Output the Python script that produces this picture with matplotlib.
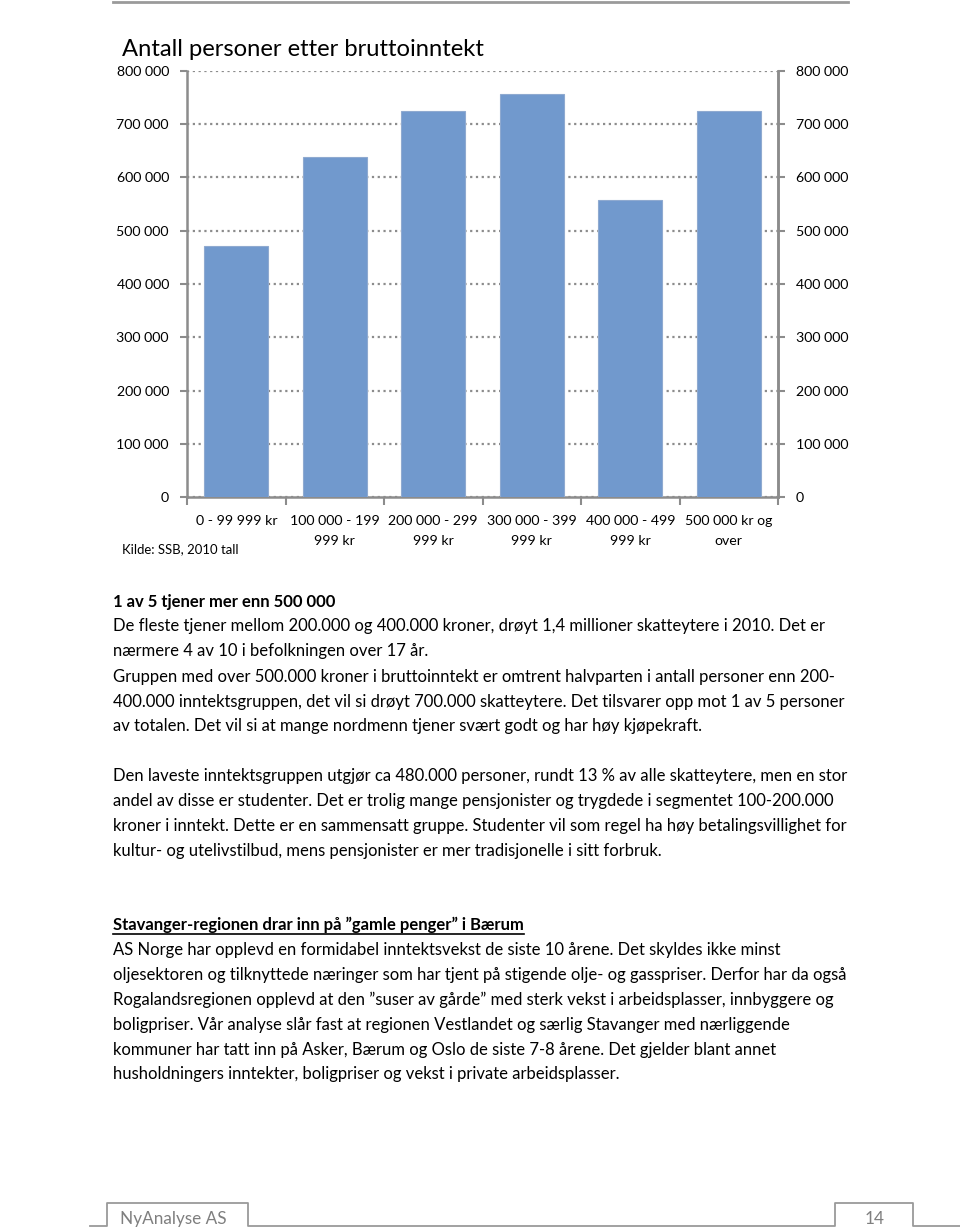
import matplotlib
matplotlib.use("Agg")
import matplotlib.pyplot as plt
from matplotlib.lines import Line2D

# ---------------- data ----------------
categories = ["0 - 99 999 kr", "100 000 - 199\n999 kr", "200 000 - 299\n999 kr",
              "300 000 - 399\n999 kr", "400 000 - 499\n999 kr", "500 000 kr og\nover"]
persons = [472000, 638000, 724000, 756000, 557000, 724000]
y_ticks = [0, 100000, 200000, 300000, 400000, 500000, 600000, 700000, 800000]

title = "Antall personer etter bruttoinntekt"
source = "Kilde: SSB, 2010 tall"

para1_head = "1 av 5 tjener mer enn 500 000"
para1 = ["De fleste tjener mellom 200.000 og 400.000 kroner, drøyt 1,4 millioner skatteytere i 2010. Det er",
         "nærmere 4 av 10 i befolkningen over 17 år."]
para2 = ["Gruppen med over 500.000 kroner i bruttoinntekt er omtrent halvparten i antall personer enn 200-",
         "400.000 inntektsgruppen, det vil si drøyt 700.000 skatteytere. Det tilsvarer opp mot 1 av 5 personer",
         "av totalen. Det vil si at mange nordmenn tjener svært godt og har høy kjøpekraft."]
para3 = ["Den laveste inntektsgruppen utgjør ca 480.000 personer, rundt 13 % av alle skatteytere, men en stor",
         "andel av disse er studenter. Det er trolig mange pensjonister og trygdede i segmentet 100-200.000",
         "kroner i inntekt. Dette er en sammensatt gruppe. Studenter vil som regel ha høy betalingsvillighet for",
         "kultur- og utelivstilbud, mens pensjonister er mer tradisjonelle i sitt forbruk."]
para4_head = "Stavanger-regionen drar inn på \u201dgamle penger\u201d i Bærum"
para4 = ["AS Norge har opplevd en formidabel inntektsvekst de siste 10 årene. Det skyldes ikke minst",
         "oljesektoren og tilknyttede næringer som har tjent på stigende olje- og gasspriser. Derfor har da også",
         "Rogalandsregionen opplevd at den \u201dsuser av gårde\u201d med sterk vekst i arbeidsplasser, innbyggere og",
         "boligpriser. Vår analyse slår fast at regionen Vestlandet og særlig Stavanger med nærliggende",
         "kommuner har tatt inn på Asker, Bærum og Oslo de siste 7-8 årene. Det gjelder blant annet",
         "husholdningers inntekter, boligpriser og vekst i private arbeidsplasser."]
footer_left = "NyAnalyse AS"
footer_right = "14"

# ---------------- figure ----------------
W, H = 960, 1229
FONT = "Lato"
plt.rcParams['font.family'] = [FONT, 'DejaVu Sans']
fig = plt.figure(figsize=(W / 100, H / 100), dpi=100)
renderer = fig.canvas.get_renderer()


def fx(x):
    return x / W


def fy(y):
    return 1 - y / H


def fit_size(s, target_px, weight="normal", base=10.0):
    t = fig.text(0, 0, s, fontsize=base, weight=weight)
    w = t.get_window_extent(renderer=renderer).width
    t.remove()
    return base * target_px / w


grey = "#8c8c8c"
bar_color = "#7199CD"

# top rule
fig.add_artist(Line2D([fx(113), fx(848)], [fy(2), fy(2)], color="#9a9a9a", lw=2))

# chart axes
ax = fig.add_axes([fx(187), fy(497), (778 - 187) / W, (497 - 71) / H])
x = list(range(len(categories)))
ax.bar(x, persons, width=0.65, color=bar_color, edgecolor="#8FAAD0", linewidth=0.8, zorder=3)
ax.set_xlim(-0.5, len(categories) - 0.5)
ax.set_ylim(0, 800000)

tick_size = fit_size("800 000", 51) * 1.03
fmt = lambda v: f"{int(v):,}".replace(",", " ")

ax.set_yticks(y_ticks)
ax.set_yticklabels([fmt(v) for v in y_ticks], fontsize=tick_size)
ax.tick_params(axis="y", length=5, width=1.5, color=grey, pad=8)
ax.grid(axis="y", color=grey, linestyle=(0, (1, 1.6)), linewidth=1.6, zorder=0)
ax.set_axisbelow(True)

ax.set_xticks(x)
ax.set_xticklabels(categories, fontsize=tick_size, linespacing=1.75)
ax.tick_params(axis="x", which="major", length=0, pad=13)
ax.set_xticks([i - 0.5 for i in range(len(categories) + 1)], minor=True)
ax.tick_params(axis="x", which="minor", length=6, width=1.5, color=grey)

for sp in ["left", "bottom", "right"]:
    ax.spines[sp].set_color(grey)
    ax.spines[sp].set_linewidth(1.8)
ax.spines["top"].set_visible(False)

ax2 = ax.twinx()
ax2.set_ylim(0, 800000)
ax2.set_yticks(y_ticks)
ax2.set_yticklabels([fmt(v) for v in y_ticks], fontsize=tick_size)
ax2.tick_params(axis="y", length=5, width=1.5, color=grey, pad=8)
for sp in ["left", "bottom", "top"]:
    ax2.spines[sp].set_visible(False)
ax2.spines["right"].set_color(grey)
ax2.spines["right"].set_linewidth(1.8)

# title and source
fig.text(fx(122), fy(49), title, fontsize=fit_size(title, 364), va="center", ha="left")
fig.text(fx(122), fy(549), source, fontsize=fit_size(source, 116), va="center", ha="left")

# body text
body_size = fit_size(para1[0], 699) * 1.02


def line(y, s, weight="normal"):
    fig.text(fx(113), fy(y), s, fontsize=body_size, weight=weight, va="center", ha="left")


line(602, para1_head, "bold")
for i, s in enumerate(para1):
    line(626 + 25 * i, s)
for i, s in enumerate(para2):
    line(677 + 24.5 * i, s)
for i, s in enumerate(para3):
    line(776 + 25 * i, s)
line(925, para4_head, "bold")
hw = fig.text(0, 0, para4_head, fontsize=body_size, weight="bold").get_window_extent(renderer=renderer).width
fig.texts[-1].remove()
fig.add_artist(Line2D([fx(113), fx(113 + hw)], [fy(934), fy(934)], color="black", lw=1.2))
for i, s in enumerate(para4):
    line(950 + 24.9 * i, s)

# footer
fc = "#7f7f7f"
fy_line = 1226
fig.add_artist(Line2D([fx(90), fx(107), fx(107), fx(248), fx(248), fx(835), fx(835), fx(913), fx(913), fx(960)],
                      [fy(fy_line), fy(fy_line), fy(1203), fy(1203), fy(fy_line), fy(fy_line), fy(1203), fy(1203),
                       fy(fy_line), fy(fy_line)], color="#9a9a9a", lw=1.3))
fsize = fit_size(footer_left, 106)
fig.text(fx(120), fy(1219), footer_left, fontsize=fsize, color=fc, va="center", ha="left")
fig.text(fx(875), fy(1219), footer_right, fontsize=fsize, color=fc, va="center", ha="center")

fig.savefig("out.png", dpi=100)
